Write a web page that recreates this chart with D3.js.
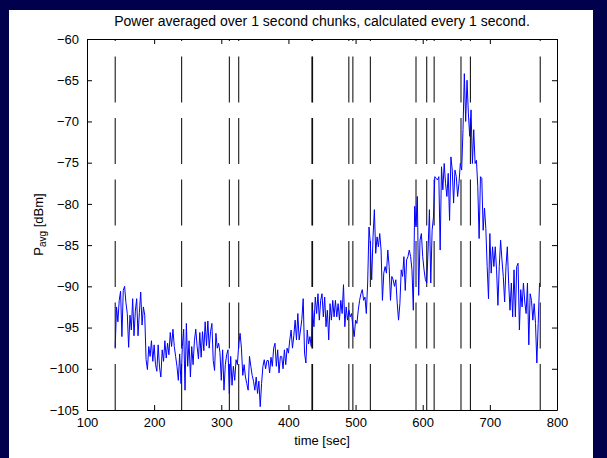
<!DOCTYPE html>
<html>
<head>
<meta charset="utf-8">
<script src="https://cdn.jsdelivr.net/npm/d3@7"></script>
<style>
  html, body { margin: 0; padding: 0; background: #00004c; }
  svg { display: block; }
  text { font-family: "Liberation Sans", Arial, sans-serif; fill: #000; }
</style>
</head>
<body>
<svg id="chart"></svg>
<script>
// chart data
const startTime = 142;   // first sample [sec]
const stepTime = 2;      // sample spacing [sec]
const powerValues = [
  -97.4, -92.5, -94.3, -91.7, -90.6, -96.1, -90.5, -90.0, -92.0, -93.3,
  -97.4, -93.5, -95.3, -91.5, -96.0, -93.0, -91.5, -96.0, -93.2, -90.7,
  -94.7, -92.5, -93.5, -98.9, -100.1, -97.3, -98.5, -96.6, -99.1, -97.1,
  -99.5, -100.3, -97.1, -99.8, -101.0, -97.7, -99.1, -96.6, -98.7, -96.9,
  -98.3, -95.6, -97.3, -95.2, -97.3, -98.5, -99.7, -101.4, -98.2, -101.8,
  -97.3, -95.2, -102.6, -94.5, -99.7, -96.6, -101.0, -97.3, -99.5, -96.6,
  -95.2, -97.3, -98.8, -95.6, -98.6, -95.5, -97.8, -94.3, -97.2, -94.2,
  -97.5, -95.5, -94.5, -99.0, -100.2, -95.7, -97.5, -96.9, -98.0, -101.4,
  -97.7, -102.6, -99.5, -98.3, -97.7, -103.0, -98.5, -102.0, -99.7, -101.4,
  -98.9, -99.5, -97.0, -95.7, -97.5, -100.8, -99.5, -101.0, -101.8, -102.6,
  -98.5, -99.7, -100.8, -101.5, -102.6, -101.0, -103.0, -101.5, -104.6, -101.8,
  -99.7, -98.9, -100.0, -99.0, -99.0, -100.5, -98.6, -99.7, -97.5, -96.9,
  -99.7, -97.7, -100.5, -98.5, -98.5, -100.0, -97.7, -99.5, -97.5, -98.1,
  -96.5, -95.3, -97.5, -96.0, -94.1, -96.5, -93.3, -96.5, -95.3, -94.0,
  -91.5, -98.1, -99.3, -95.3, -97.0, -96.1, -97.3, -92.9, -94.9, -91.3,
  -93.3, -90.9, -94.1, -91.7, -90.9, -93.7, -91.3, -94.9, -92.9, -96.5,
  -92.1, -94.1, -91.7, -93.7, -91.7, -93.7, -92.1, -94.1, -91.7, -93.3,
  -89.8, -94.9, -92.5, -94.1, -92.9, -93.7, -93.3, -94.9, -96.1, -94.1,
  -94.5, -92.9, -91.7, -90.9, -90.4, -91.7, -91.3, -93.3, -89.6, -82.8,
  -84.8, -89.2, -84.0, -80.7, -86.0, -84.0, -85.2, -83.6, -85.6, -91.7,
  -88.4, -87.6, -88.4, -85.6, -87.6, -91.7, -88.8, -89.2, -90.0, -89.2,
  -92.0, -94.1, -92.1, -88.0, -88.8, -86.4, -90.5, -86.8, -86.4, -85.6,
  -86.4, -88.0, -92.9, -80.3, -82.8, -79.1, -91.1, -84.4, -83.6, -86.4,
  -88.0, -89.2, -89.6, -85.6, -80.7, -89.6, -83.2, -81.6, -76.7, -76.9,
  -77.1, -76.7, -85.6, -75.5, -78.3, -75.1, -77.5, -79.1, -76.3, -82.0,
  -74.3, -75.9, -79.9, -75.9, -76.7, -79.1, -77.5, -75.1, -75.9, -71.0,
  -64.2, -70.0, -65.0, -69.0, -71.8, -68.6, -75.1, -71.0, -75.1, -74.7,
  -77.9, -84.2, -76.7, -76.9, -83.2, -80.5, -83.0, -87.6, -91.5, -83.6,
  -88.4, -85.2, -87.6, -85.2, -88.0, -92.3, -87.6, -84.4, -86.8, -88.8,
  -91.9, -87.6, -85.2, -89.6, -92.9, -89.6, -93.7, -88.0, -93.7, -87.6,
  -87.2, -95.3, -90.4, -92.5, -89.6, -91.9, -93.3, -89.6, -97.1, -90.9,
  -91.7, -94.1, -92.1, -94.5, -99.3, -94.5, -89.6
];
// event marker times [sec]
const markerTimes = [142, 241, 312, 326, 435, 436, 490, 496, 522, 590, 606, 617, 657, 671, 775];
const xTicks = [100, 200, 300, 400, 500, 600, 700, 800];
const yTicks = [-60, -65, -70, -75, -80, -85, -90, -95, -100, -105];
const titleText = "Power averaged over 1 second chunks, calculated every 1 second.";

const width = 607;
const height = 458;
const plot = { left: 87, right: 557, top: 39, bottom: 410 };
const tickLen = 5;
const fontSize = 13;

const svg = d3.select("#chart").attr("width", width).attr("height", height);

// white figure area
svg.append("rect")
  .attr("x", 9).attr("y", 10)
  .attr("width", 584).attr("height", height - 10)
  .attr("fill", "#fff");

const x = d3.scaleLinear().domain([100, 800]).range([plot.left, plot.right]);
const y = d3.scaleLinear().domain([-105, -60]).range([plot.bottom, plot.top]);

const series = powerValues.map((v, i) => ({ t: startTime + i * stepTime, v: v }));

// dashed event markers, dash pattern starts at the bottom
svg.append("g")
  .selectAll("line")
  .data(markerTimes)
  .enter()
  .append("line")
  .attr("x1", (d) => x(d)).attr("x2", (d) => x(d))
  .attr("y1", y(-105)).attr("y2", y(-60))
  .attr("stroke", "#000")
  .attr("stroke-width", 1)
  .attr("stroke-dasharray", "46 15.5");

// power trace
const line = d3.line().x((d) => x(d.t)).y((d) => y(d.v));
svg.append("path")
  .datum(series)
  .attr("d", line)
  .attr("fill", "none")
  .attr("stroke", "#0000ff")
  .attr("stroke-width", 1);

// axes box with inward ticks (MATLAB style)
const xAxisB = d3.axisBottom(x).tickValues(xTicks).tickSizeInner(-tickLen).tickSizeOuter(0).tickPadding(8);
const xAxisT = d3.axisTop(x).tickValues(xTicks).tickSizeInner(-tickLen).tickSizeOuter(0).tickFormat("");
const yAxisL = d3.axisLeft(y).tickValues(yTicks).tickSizeInner(-tickLen).tickSizeOuter(0).tickPadding(8);
const yAxisR = d3.axisRight(y).tickValues(yTicks).tickSizeInner(-tickLen).tickSizeOuter(0).tickFormat("");

function styleAxis(g) {
  g.selectAll(".domain").attr("stroke", "#000");
  g.selectAll(".tick line").attr("stroke", "#000");
  g.selectAll(".tick text")
    .attr("font-family", "Liberation Sans, Arial, sans-serif")
    .attr("font-size", fontSize)
    .attr("fill", "#000");
}

svg.append("g").attr("transform", `translate(0,${plot.bottom})`).call(xAxisB).call(styleAxis);
svg.append("g").attr("transform", `translate(0,${plot.top})`).call(xAxisT).call(styleAxis);
svg.append("g").attr("transform", `translate(${plot.left},0)`).call(yAxisL).call(styleAxis);
svg.append("g").attr("transform", `translate(${plot.right},0)`).call(yAxisR).call(styleAxis);

// title
svg.append("text")
  .attr("x", (plot.left + plot.right) / 2)
  .attr("y", 26)
  .attr("text-anchor", "middle")
  .attr("font-size", 14)
  .text(titleText);

// x label
svg.append("text")
  .attr("x", (plot.left + plot.right) / 2)
  .attr("y", 445)
  .attr("text-anchor", "middle")
  .attr("font-size", fontSize)
  .text("time [sec]");

// y label with subscript
const yl = svg.append("text")
  .attr("transform", `translate(43,${(plot.top + plot.bottom) / 2}) rotate(-90)`)
  .attr("text-anchor", "middle")
  .attr("font-size", fontSize);
yl.append("tspan").text("P");
yl.append("tspan").attr("font-size", 10).attr("dy", 3).text("avg");
yl.append("tspan").attr("dy", -3).text(" [dBm]");
</script>
</body>
</html>
